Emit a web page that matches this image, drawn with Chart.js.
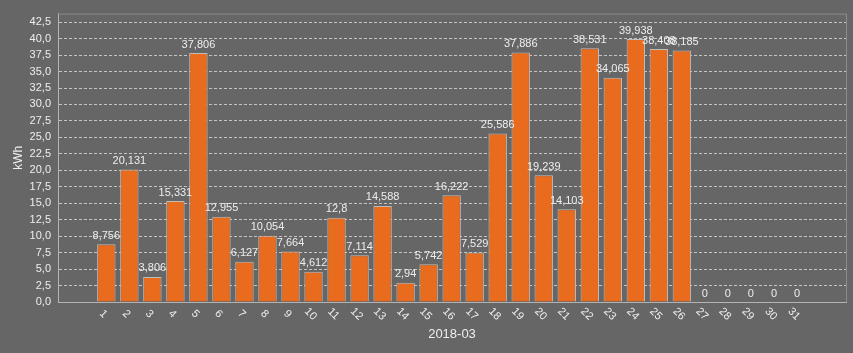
<!DOCTYPE html>
<html><head><meta charset="utf-8">
<script src="https://cdn.jsdelivr.net/npm/chart.js@4.4.0/dist/chart.umd.min.js"></script>
<style>html,body{margin:0;padding:0;background:#666666;overflow:hidden;} canvas{display:block;}</style>
</head><body>
<canvas id="c" width="853" height="353"></canvas>
<script>
const days = ["1","2","3","4","5","6","7","8","9","10","11","12","13","14","15","16","17","18","19","20","21","22","23","24","25","26","27","28","29","30","31"];
const values = [8.756,20.131,3.806,15.331,37.806,12.955,6.127,10.054,7.664,4.612,12.8,7.114,14.588,2.94,5.742,16.222,7.529,25.586,37.886,19.239,14.103,38.531,34.065,39.938,38.408,38.185,0,0,0,0,0];
const yTickValues = [0,2.5,5,7.5,10,12.5,15,17.5,20,22.5,25,27.5,30,32.5,35,37.5,40,42.5];
const yTickLabels = ["0,0","2,5","5,0","7,5","10,0","12,5","15,0","17,5","20,0","22,5","25,0","27,5","30,0","32,5","35,0","37,5","40,0","42,5"];
const xTitle = "2018-03";
const yTitle = "kWh";

const TEXT = '#eeeeee';
const FONT = '"Liberation Sans", Arial, sans-serif';
const fmt = v => String(v).replace('.', ',');

const bgPlugin = {
  id: 'bg',
  beforeDraw(chart) {
    const ctx = chart.ctx;
    ctx.save();
    ctx.fillStyle = '#666666';
    ctx.fillRect(0, 0, chart.width, chart.height);
    ctx.restore();
  },
  beforeDatasetsDraw(chart) {
    const {ctx, chartArea: a} = chart;
    ctx.save();
    ctx.strokeStyle = '#8c8c8c';
    ctx.lineWidth = 1;
    ctx.beginPath();
    ctx.moveTo(a.left, a.top + 0.5);
    ctx.lineTo(a.right + 0.5, a.top + 0.5);
    ctx.lineTo(a.right + 0.5, a.bottom);
    ctx.stroke();
    ctx.restore();
  }
};

const labelPlugin = {
  id: 'labels',
  afterDatasetsDraw(chart) {
    const ctx = chart.ctx;
    const meta = chart.getDatasetMeta(0);
    ctx.save();
    ctx.fillStyle = TEXT;
    ctx.font = '11px ' + FONT;
    ctx.textAlign = 'center';
    ctx.textBaseline = 'middle';
    meta.data.forEach((bar, i) => {
      ctx.fillText(fmt(values[i]), bar.x, bar.y - 8.5);
    });
    ctx.restore();
  },
  afterDraw(chart) {
    const ctx = chart.ctx;
    const xs = chart.scales.x;
    ctx.save();
    ctx.fillStyle = TEXT;
    ctx.font = '11px ' + FONT;
    ctx.textAlign = 'center';
    ctx.textBaseline = 'middle';
    days.forEach(d => {
      const x = xs.getPixelForValue(Number(d));
      ctx.save();
      ctx.translate(x - 3, 314);
      ctx.rotate(Math.PI / 4);
      ctx.fillText(d, 0, 0);
      ctx.restore();
    });
    ctx.restore();
  }
};

new Chart(document.getElementById('c'), {
  type: 'bar',
  data: {
    datasets: [{
      data: days.map((d, i) => ({x: Number(d), y: values[i]})),
      backgroundColor: '#E96B1E',
      borderColor: '#BEBEBE',
      borderWidth: 1,
      barPercentage: 0.8,
      categoryPercentage: 1
    }]
  },
  options: {
    responsive: false,
    animation: false,
    devicePixelRatio: 1,
    layout: {padding: {top: 6, right: 7, left: 0, bottom: 0}},
    plugins: {legend: {display: false}, tooltip: {enabled: false}},
    scales: {
      x: {
        type: 'linear',
        min: -1.1,
        max: 33.13,
        offset: false,
        grid: {display: false, drawTicks: false},
        border: {color: '#b4b4b4', width: 1},
        ticks: {display: false},
        title: {display: true, text: xTitle, color: TEXT, font: {size: 13, family: FONT}, padding: {top: 0, bottom: 11}},
        afterFit: s => { s.height = 51; }
      },
      y: {
        min: 0,
        max: 43.8,
        afterBuildTicks: s => { s.ticks = yTickValues.map(v => ({value: v})); },
        ticks: {
          callback: (v, i) => yTickLabels[i],
          color: TEXT,
          font: {size: 11, family: FONT},
          padding: 7
        },
        grid: {color: '#c4c4c4', lineWidth: 1, drawTicks: false},
        border: {color: '#b4b4b4', width: 1, dash: [3, 2]},
        title: {display: true, text: yTitle, color: TEXT, font: {size: 12, family: FONT}, padding: {top: 11, bottom: 0}},
        afterFit: s => { s.width = 58; }
      }
    }
  },
  plugins: [bgPlugin, labelPlugin]
});
</script>
</body></html>
